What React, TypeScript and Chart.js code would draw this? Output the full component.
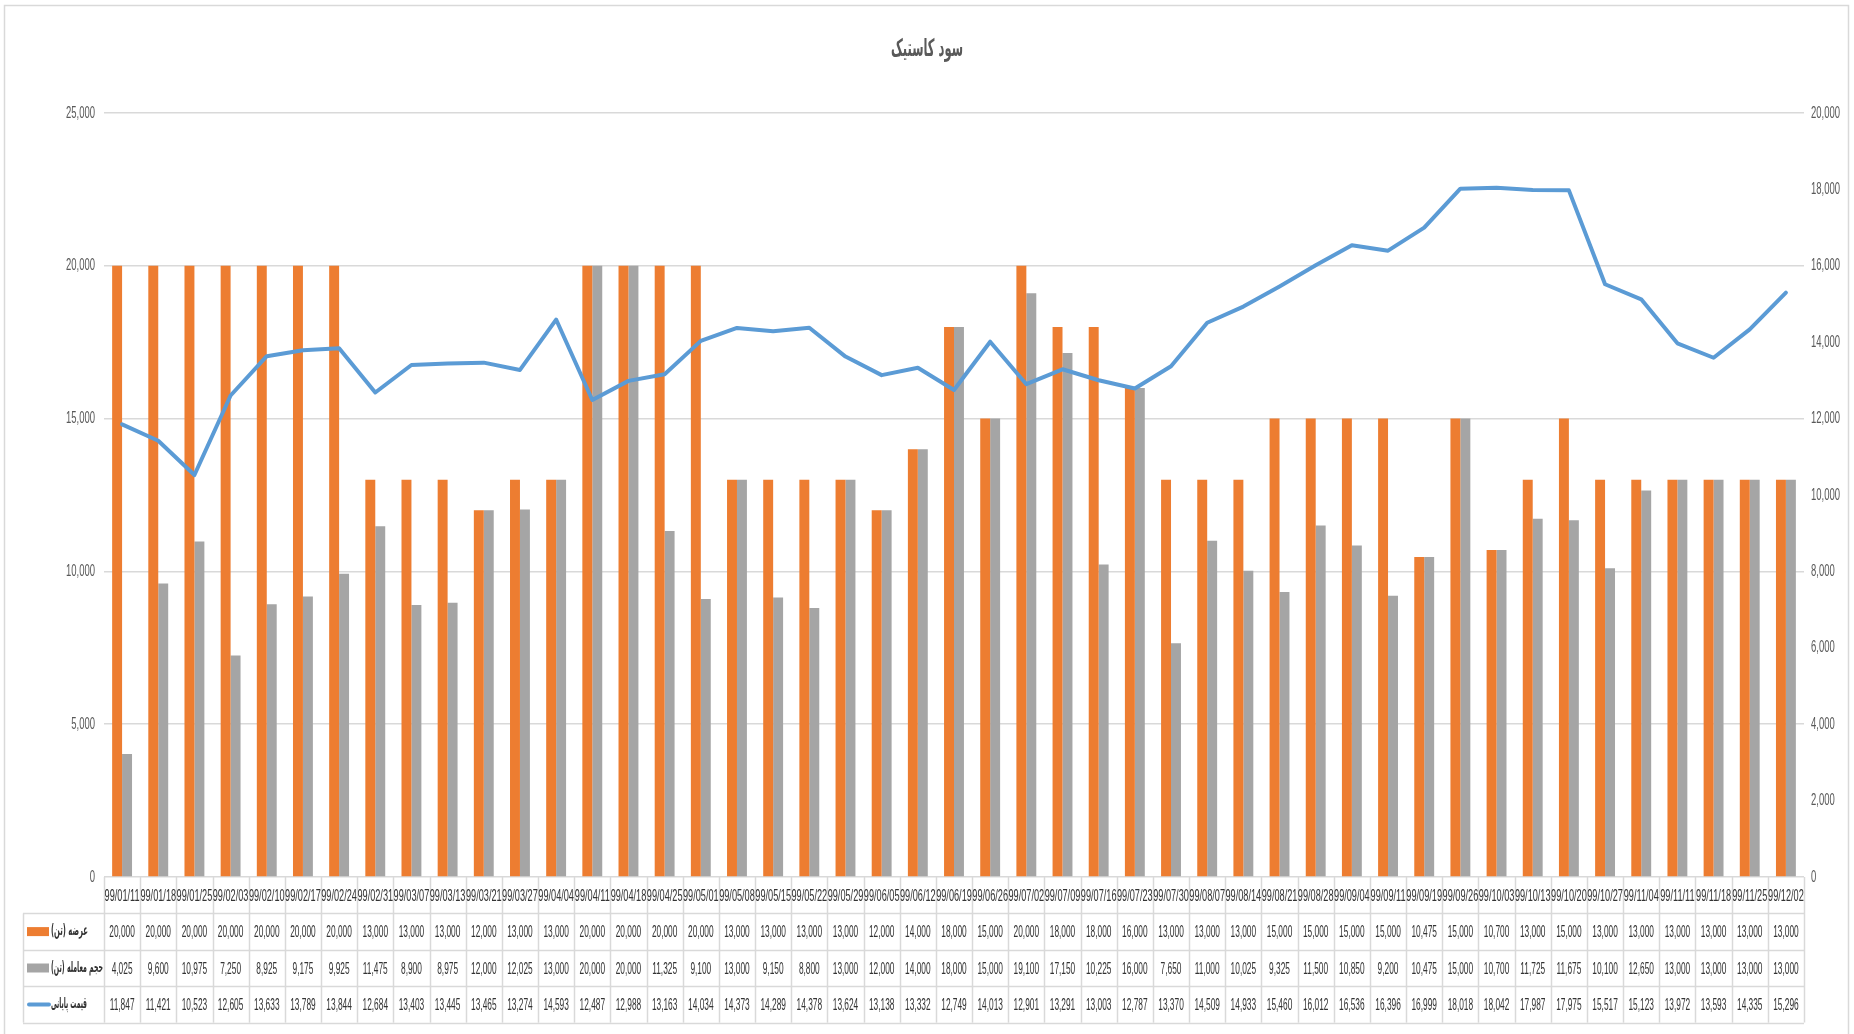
import React, { useEffect, useRef } from "react";
import { Chart, registerables } from "chart.js";

Chart.register(...registerables);

const chartTitle = "سود کاستیک";

const dates = [
  "99/01/11", "99/01/18", "99/01/25", "99/02/03", "99/02/10", "99/02/17", "99/02/24", "99/02/31",
  "99/03/07", "99/03/13", "99/03/21", "99/03/27", "99/04/04", "99/04/11", "99/04/18", "99/04/25",
  "99/05/01", "99/05/08", "99/05/15", "99/05/22", "99/05/29", "99/06/05", "99/06/12", "99/06/19",
  "99/06/26", "99/07/02", "99/07/09", "99/07/16", "99/07/23", "99/07/30", "99/08/07", "99/08/14",
  "99/08/21", "99/08/28", "99/09/04", "99/09/11", "99/09/19", "99/09/26", "99/10/03", "99/10/13",
  "99/10/20", "99/10/27", "99/11/04", "99/11/11", "99/11/18", "99/11/25", "99/12/02",
];

const supply = [
  20000, 20000, 20000, 20000, 20000, 20000, 20000, 13000, 13000, 13000, 12000, 13000, 13000, 20000,
  20000, 20000, 20000, 13000, 13000, 13000, 13000, 12000, 14000, 18000, 15000, 20000, 18000, 18000,
  16000, 13000, 13000, 13000, 15000, 15000, 15000, 15000, 10475, 15000, 10700, 13000, 15000, 13000,
  13000, 13000, 13000, 13000, 13000,
];

const volume = [
  4025, 9600, 10975, 7250, 8925, 9175, 9925, 11475, 8900, 8975, 12000, 12025, 13000, 20000, 20000,
  11325, 9100, 13000, 9150, 8800, 13000, 12000, 14000, 18000, 15000, 19100, 17150, 10225, 16000,
  7650, 11000, 10025, 9325, 11500, 10850, 9200, 10475, 15000, 10700, 11725, 11675, 10100, 12650,
  13000, 13000, 13000, 13000,
];

const price = [
  11847, 11421, 10523, 12605, 13633, 13789, 13844, 12684, 13403, 13445, 13465, 13274, 14593, 12487,
  12988, 13163, 14034, 14373, 14289, 14378, 13624, 13138, 13332, 12749, 14013, 12901, 13291, 13003,
  12787, 13370, 14509, 14933, 15460, 16012, 16536, 16396, 16999, 18018, 18042, 17987, 17975, 15517,
  15123, 13972, 13593, 14335, 15296,
];

const seriesNames = ["عرضه (تن)", "حجم معامله (تن)", "قیمت پایانی"];

const COLORS = { supply: "#ED7D31", volume: "#A5A5A5", price: "#5B9BD5", grid: "#D9D9D9", text: "#333333", axis: "#595959" };
const NUM_FONT = '17px "Liberation Sans Narrow", "Liberation Sans", Arial, sans-serif';
const AR_FONT = 'bold 15px "DejaVu Sans", sans-serif';
const TITLE_FONT = 'bold 24px "DejaVu Sans", sans-serif';
const ROW_H = 36.4;
const TABLE_LEFT = 23;
const LABEL_WIDTHS = [37, 52, 36];

const fmt = (v: number) => v.toLocaleString("en-US");

function drawScaled(ctx: CanvasRenderingContext2D, text: string, x: number, y: number, sx: number, align: CanvasTextAlign) {
  ctx.save();
  ctx.translate(x, y);
  ctx.scale(sx, 1);
  ctx.textAlign = align;
  ctx.textBaseline = "middle";
  ctx.fillText(text, 0, 0);
  ctx.restore();
}

const decorPlugin = {
  id: "decor",
  beforeDraw(chart: any) {
    const ctx: CanvasRenderingContext2D = chart.ctx;
    ctx.save();
    ctx.fillStyle = "#ffffff";
    ctx.fillRect(0, 0, chart.width, chart.height);
    ctx.strokeStyle = COLORS.grid;
    ctx.lineWidth = 1.5;
    ctx.strokeRect(4.5, 5.5, chart.width - 10, chart.height + 20);
    ctx.restore();
  },
  afterDraw(chart: any) {
    const ctx: CanvasRenderingContext2D = chart.ctx;
    const xs = chart.scales.x;
    const ys = chart.scales.y;
    const ys1 = chart.scales.y1;
    const area = chart.chartArea;
    const n = dates.length;
    const colW = (area.right - area.left) / n;
    ctx.save();

    // title
    ctx.font = TITLE_FONT;
    ctx.fillStyle = COLORS.axis;
    const tw = ctx.measureText(chartTitle).width;
    drawScaled(ctx, chartTitle, chart.width / 2, 50, 72 / tw, "center");

    // axis labels
    ctx.font = NUM_FONT;
    ctx.fillStyle = COLORS.axis;
    const axS = 29 / ctx.measureText("25,000").width;
    ys.ticks.forEach((t: any) => {
      drawScaled(ctx, fmt(t.value), area.left - 9, ys.getPixelForValue(t.value), axS, "right");
    });
    ys1.ticks.forEach((t: any) => {
      drawScaled(ctx, fmt(t.value), area.right + 7, ys1.getPixelForValue(t.value), axS, "left");
    });

    // table lines
    const top = area.bottom;
    const hb = top + ROW_H;
    const bottom = hb + ROW_H * 3;
    ctx.strokeStyle = COLORS.grid;
    ctx.lineWidth = 1.5;
    ctx.beginPath();
    for (let i = 0; i <= n; i++) {
      const x = Math.round(xs.getPixelForValue(Math.min(i, n - 1)) + (i === n ? colW / 2 : -colW / 2)) + 0.5;
      ctx.moveTo(x, top);
      ctx.lineTo(x, bottom);
    }
    ctx.moveTo(TABLE_LEFT + 0.5, hb);
    ctx.lineTo(TABLE_LEFT + 0.5, bottom);
    for (let r = 0; r <= 3; r++) {
      const y = Math.round(hb + r * ROW_H) + 0.5;
      ctx.moveTo(TABLE_LEFT, y);
      ctx.lineTo(area.right, y);
    }
    ctx.stroke();

    // dates header
    ctx.font = NUM_FONT;
    ctx.fillStyle = COLORS.text;
    const dS = 35 / ctx.measureText("99/01/11").width;
    dates.forEach((d, i) => {
      drawScaled(ctx, d, xs.getPixelForValue(i), top + ROW_H / 2 + 1, dS, "center");
    });

    // values
    const vS = 25.5 / ctx.measureText("20,000").width;
    const rows = [supply, volume, price];
    rows.forEach((arr, r) => {
      const cy = hb + r * ROW_H + ROW_H / 2 + 1;
      arr.forEach((v, i) => {
        drawScaled(ctx, fmt(v), xs.getPixelForValue(i), cy, vS, "center");
      });
    });

    // row labels with keys
    rows.forEach((_, r) => {
      const cy = hb + r * ROW_H + ROW_H / 2;
      if (r < 2) {
        ctx.fillStyle = r === 0 ? COLORS.supply : COLORS.volume;
        ctx.fillRect(27, cy - 4.5, 22, 9);
      } else {
        ctx.strokeStyle = COLORS.price;
        ctx.lineWidth = 4;
        ctx.lineCap = "round";
        ctx.beginPath();
        ctx.moveTo(29, cy);
        ctx.lineTo(49, cy);
        ctx.stroke();
      }
      ctx.font = AR_FONT;
      ctx.fillStyle = COLORS.text;
      ctx.direction = "rtl";
      const w = ctx.measureText(seriesNames[r]).width;
      drawScaled(ctx, seriesNames[r], 51, cy, LABEL_WIDTHS[r] / w, "left");
      ctx.direction = "ltr";
    });

    ctx.restore();
  },
};

export default function App() {
  const ref = useRef<HTMLCanvasElement | null>(null);
  useEffect(() => {
    if (!ref.current) return;
    const chart = new Chart(ref.current, {
      type: "bar",
      data: {
        labels: dates,
        datasets: [
          {
            type: "line",
            label: seriesNames[2],
            data: price,
            yAxisID: "y1",
            borderColor: COLORS.price,
            backgroundColor: COLORS.price,
            borderWidth: 4,
            pointRadius: 0,
            tension: 0,
            borderJoinStyle: "round",
            borderCapStyle: "round",
            order: 0,
          } as any,
          {
            type: "bar",
            label: seriesNames[0],
            data: supply,
            yAxisID: "y",
            backgroundColor: COLORS.supply,
            categoryPercentage: 0.55,
            barPercentage: 1,
            order: 1,
          },
          {
            type: "bar",
            label: seriesNames[1],
            data: volume,
            yAxisID: "y",
            backgroundColor: COLORS.volume,
            categoryPercentage: 0.55,
            barPercentage: 1,
            order: 1,
          },
        ],
      },
      options: {
        animation: false,
        responsive: false,
        maintainAspectRatio: false,
        layout: { padding: { left: 104, right: 50, top: 113, bottom: 157 } },
        plugins: {
          legend: { display: false },
          title: { display: false },
          tooltip: { enabled: false },
        },
        scales: {
          x: { display: false, offset: true, grid: { display: false } },
          y: {
            position: "left",
            min: 0,
            max: 25000,
            ticks: { stepSize: 5000, display: false },
            grid: { color: COLORS.grid, lineWidth: 1.5, drawTicks: false },
            border: { display: false },
          },
          y1: {
            position: "right",
            min: 0,
            max: 20000,
            ticks: { stepSize: 2000, display: false },
            grid: { display: false, drawTicks: false },
            border: { display: false },
          },
        },
      },
      plugins: [decorPlugin],
    });
    return () => chart.destroy();
  }, []);
  return (
    <div style={{ position: "absolute", left: 0, top: 0, width: 1854, height: 1034, background: "#fff", overflow: "hidden" }}>
      <canvas ref={ref} width={1854} height={1034} style={{ display: "block", width: 1854, height: 1034 }} />
    </div>
  );
}
